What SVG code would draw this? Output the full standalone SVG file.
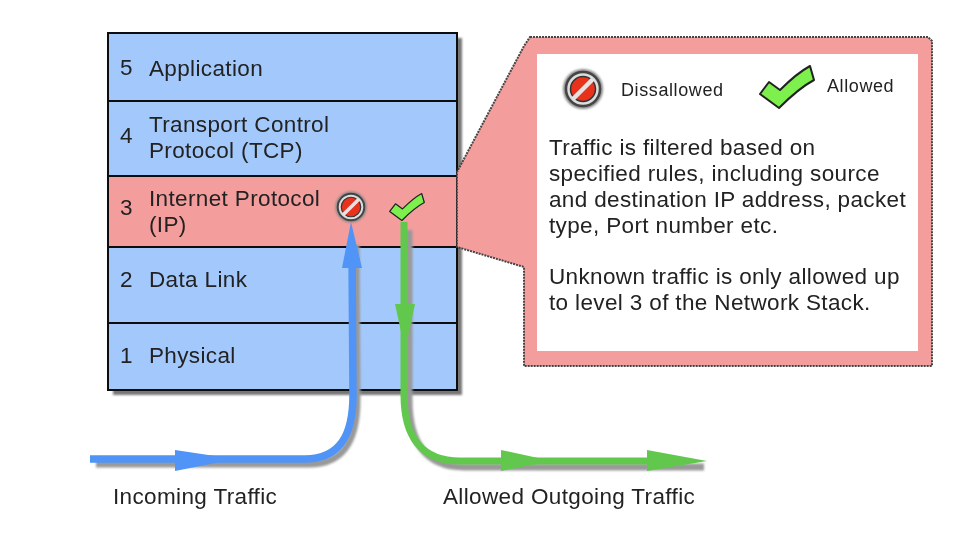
<svg xmlns="http://www.w3.org/2000/svg" width="966" height="534" viewBox="0 0 966 534">
<style>
text{font-family:"Liberation Sans",Arial,sans-serif;fill:#222;font-size:22.5px;letter-spacing:.36px}
.b{fill:#a3c8fb;stroke:#111;stroke-width:2}
.r{fill:#f49d9d;stroke:#111;stroke-width:2}
.sh{fill:#777}
text.s{font-size:18px;letter-spacing:.6px}
</style>
<defs>
<filter id="blur" x="-20%" y="-20%" width="140%" height="140%"><feGaussianBlur stdDeviation="1.3"/></filter>
<filter id="soft" x="0" y="0" width="966" height="534" filterUnits="userSpaceOnUse"><feGaussianBlur stdDeviation="0.45"/></filter>
<g id="no"><circle r="20" fill="#888" filter="url(#blur)"/><circle r="17" fill="#ddd" stroke="#444" stroke-width="2.5"/><circle r="12.5" fill="#e8321f" stroke="#333" stroke-width="1.5"/><path d="M-10 10L10-10" stroke="#e4e4e4" stroke-width="4.5"/></g>
<path id="ck" d="M-27 7L-18-5L-7 3C3-7 12-15 23-21L27-7C14 0 3 10-8 21Z" fill="#7df04d" stroke="#222" stroke-width="2" stroke-linejoin="round"/>
</defs>
<g filter="url(#soft)">
<rect class="sh" x="113" y="38" width="349" height="357" filter="url(#blur)"/>
<g id="layer5"><rect class="b" x="108" y="33" width="349" height="68"/><text x="120" y="75">5</text><text x="149" y="76">Application</text></g>
<g id="layer4"><rect class="b" x="108" y="101" width="349" height="75"/><text x="120" y="143">4</text><text x="149" y="132">Transport Control</text><text x="149" y="158">Protocol (TCP)</text></g>
<g id="layer3"><rect class="r" x="108" y="176" width="349" height="71"/><text x="120" y="215">3</text><text x="149" y="206">Internet Protocol</text><text x="149" y="232">(IP)</text></g>
<g id="layer2"><rect class="b" x="108" y="247" width="349" height="76"/><text x="120" y="287">2</text><text x="149" y="287">Data Link</text></g>
<g id="layer1"><rect class="b" x="108" y="323" width="349" height="67"/><text x="120" y="363">1</text><text x="149" y="363">Physical</text></g>
<g id="callout">
<path d="M530 37H928L932 41V366H524V267L457 247V172L524 46Z" fill="#f49d9d" stroke="#444" stroke-width="2" stroke-dasharray="2 1"/>
<rect x="537" y="54" width="381" height="297" fill="#fff"/>
<text x="549" y="155">Traffic is filtered based on</text>
<text x="549" y="181">specified rules, including source</text>
<text x="549" y="207">and destination IP address, packet</text>
<text x="549" y="233">type, Port number etc.</text>
<text x="549" y="284">Unknown traffic is only allowed up</text>
<text x="549" y="310">to level 3 of the Network Stack.</text>
</g>
<g id="legend-disallowed"><use href="#no" x="583" y="89"/><text x="621" y="96" class="s">Dissallowed</text></g>
<g id="legend-allowed"><use href="#ck" x="787" y="87"/><text x="827" y="92" class="s">Allowed</text></g>
<g id="connectors" fill="none">
<g stroke="#999" stroke-width="7" filter="url(#blur)" transform="translate(4 5)">
<path d="M92 459H305C340 459 353 435 353 395L352 240"/>
<path d="M405 225V395C405 435 420 462 460 462H700"/>
</g>
<path d="M90 459H305C340 459 353 435 353 395L352 250" stroke="#4f94f6" stroke-width="7.5"/>
<path d="M351 222L362 268H342Z" fill="#4f94f6"/>
<path d="M175 450L235 459L175 471Z" fill="#4f94f6"/>
<path d="M404 222V395C404 435 420 461 460 461H660" stroke="#62c84e" stroke-width="7"/>
<path d="M395 304H415L405 350Z" fill="#62c84e"/>
<path d="M501 450L552 461L501 471Z" fill="#62c84e"/>
<path d="M647 450L707 461L647 471Z" fill="#62c84e"/>
</g>
<g id="blocked-marker"><use href="#no" transform="translate(351 207) scale(.78)"/></g>
<g id="allowed-marker"><use href="#ck" transform="translate(407 207) scale(.64)"/></g>
<g id="labels"><text x="113" y="504">Incoming Traffic</text><text x="443" y="504">Allowed Outgoing Traffic</text></g>
</g>
</svg>
